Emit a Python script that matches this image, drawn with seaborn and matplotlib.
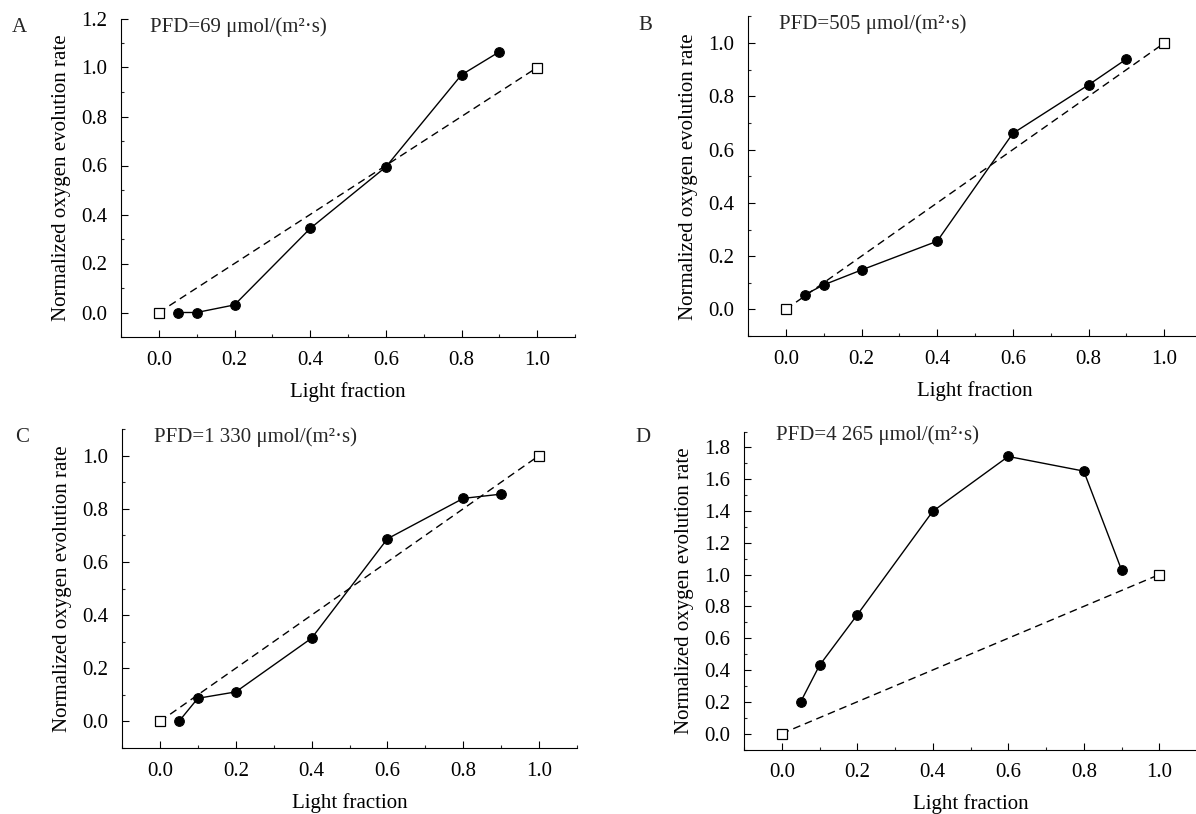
import matplotlib
matplotlib.use('Agg')
import matplotlib.pyplot as plt
import seaborn as sns
from matplotlib.ticker import MultipleLocator

# Light fraction of the flashing treatment (filled circles)
light_fraction = [0.05, 0.1, 0.2, 0.4, 0.6, 0.8, 0.9]

# Normalized oxygen evolution rate per PFD level
rate_a = [0.0, 0.0, 0.031, 0.343, 0.594, 0.970, 1.064]
rate_b = [0.055, 0.092, 0.148, 0.256, 0.661, 0.843, 0.940]
rate_c = [0.0, 0.087, 0.111, 0.313, 0.687, 0.839, 0.855]
rate_d = [0.199, 0.429, 0.747, 1.398, 1.743, 1.651, 1.030]

# Reference line: continuous light (open squares)
ref_x = [0.0, 1.0]
ref_y = [0.0, 1.0]

panel_labels = ['A', 'B', 'C', 'D']
pfd_labels = ['PFD=69 \u03bcmol/(m\u00b2\u00b7s)',
              'PFD=505 \u03bcmol/(m\u00b2\u00b7s)',
              'PFD=1 330 \u03bcmol/(m\u00b2\u00b7s)',
              'PFD=4 265 \u03bcmol/(m\u00b2\u00b7s)']
ylims = [(-0.1, 1.2), (-0.1, 1.1), (-0.1, 1.1), (-0.1, 1.9)]

W, H = 1196, 814

sns.set_theme(style='ticks')
plt.rcParams['font.family'] = ['Liberation Serif', 'DejaVu Serif']
plt.rcParams['axes.linewidth'] = 0.8
FS = 15

fig = plt.figure(figsize=(W / 100, H / 100), dpi=100)


def px_axes(left, top, right, bottom):
    return fig.add_axes([left / W, 1 - bottom / H, (right - left) / W, (bottom - top) / H])


# axes boxes in pixels: left, top, right, bottom
boxes = [(121, 18.5, 575, 337),
         (748, 16.5, 1202, 336),
         (122, 429, 577, 748),
         (744, 431.5, 1197, 749.5)]
label_pos = [(19, 27), (645, 25), (22, 438), (643, 438)]
pfd_pos = [(150, 27), (779, 24), (154, 437), (776, 435)]

for i, rates in enumerate([rate_a, rate_b, rate_c, rate_d]):
    ax = px_axes(*boxes[i])
    sns.lineplot(x=ref_x, y=ref_y, ax=ax, color='black', linestyle=(0, (5.5, 3.5)),
                 linewidth=1.0, marker='s', markersize=7, markerfacecolor='white',
                 markeredgecolor='black', markeredgewidth=0.9, zorder=3)
    sns.lineplot(x=light_fraction, y=rates, ax=ax, color='black', linewidth=1.0,
                 marker='o', markersize=7, markeredgecolor='black', zorder=4)

    ax.set_xlim(-0.1, 1.1)
    ax.set_ylim(*ylims[i])
    ax.xaxis.set_major_locator(MultipleLocator(0.2))
    ax.xaxis.set_minor_locator(MultipleLocator(0.1))
    ax.yaxis.set_major_locator(MultipleLocator(0.2))
    ax.yaxis.set_minor_locator(MultipleLocator(0.1))
    ax.set_xticks([0.0, 0.2, 0.4, 0.6, 0.8, 1.0])
    ax.xaxis.set_major_formatter(matplotlib.ticker.FormatStrFormatter('%.1f'))
    ax.yaxis.set_major_formatter(matplotlib.ticker.FormatStrFormatter('%.1f'))
    ax.tick_params(which='major', direction='in', length=5, width=0.8, pad=10,
                   labelsize=FS, colors='black')
    ax.tick_params(which='minor', direction='in', length=2.5, width=0.8)
    sns.despine(ax=ax)
    for s in ['left', 'bottom']:
        ax.spines[s].set_color('black')
        ax.spines[s].set_linewidth(0.8)

    ax.set_xlabel('Light fraction', fontsize=FS, labelpad=8.5, color='black')
    ax.set_ylabel('Normalized oxygen evolution rate', fontsize=FS, labelpad=7, color='black')

    lx, ly = label_pos[i]
    fig.text(lx / W, 1 - ly / H, panel_labels[i], fontsize=FS, ha='center', va='center')
    tx, ty = pfd_pos[i]
    fig.text(tx / W, 1 - ty / H, pfd_labels[i], fontsize=FS, ha='left', va='center')

fig.savefig('out.png', dpi=100, facecolor='white')
